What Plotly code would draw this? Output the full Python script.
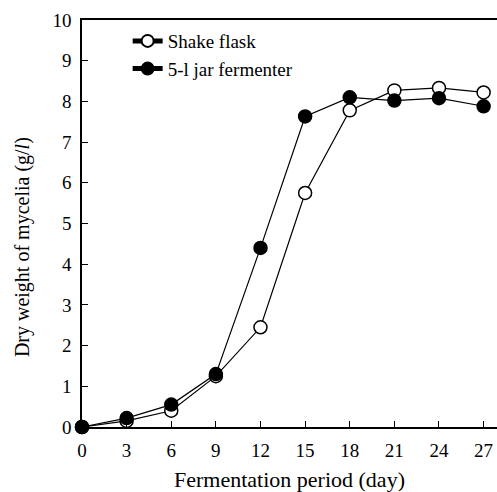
import plotly.graph_objects as go

days = [0, 3, 6, 9, 12, 15, 18, 21, 24, 27]
shake_flask = [0.0, 0.15, 0.40, 1.25, 2.45, 5.75, 7.78, 8.27, 8.33, 8.22]
jar_fermenter = [0.0, 0.22, 0.55, 1.30, 4.40, 7.63, 8.10, 8.02, 8.08, 7.88]
x_ticks = [0, 3, 6, 9, 12, 15, 18, 21, 24, 27]
y_ticks = list(range(0, 11))

font = "Liberation Serif, Times New Roman, serif"
fig = go.Figure()
fig.add_trace(go.Scatter(
    x=days, y=shake_flask, mode="lines+markers", name="Shake flask",
    line=dict(color="black", width=1.2),
    marker=dict(symbol="circle", size=13, color="white", line=dict(color="black", width=1.5)),
    cliponaxis=False))
fig.add_trace(go.Scatter(
    x=days, y=jar_fermenter, mode="lines+markers", name="5-l jar fermenter",
    line=dict(color="black", width=1.2),
    marker=dict(symbol="circle", size=13, color="black", line=dict(color="black", width=1.5)),
    cliponaxis=False))

fig.update_layout(
    width=497, height=492,
    margin=dict(l=82, r=0, t=20, b=65),
    paper_bgcolor="white", plot_bgcolor="white",
    font=dict(family=font, size=19, color="black"),
    showlegend=True,
    legend=dict(x=0.11, y=0.995, xanchor="left", yanchor="top",
                bgcolor="rgba(0,0,0,0)", font=dict(size=19, family=font),
                itemsizing="constant", tracegroupgap=0),
    xaxis=dict(range=[0, 27.9], tickvals=x_ticks, ticks="inside", ticklen=6,
               tickcolor="black", showline=True, linecolor="black", linewidth=1.5,
               mirror=True, showgrid=False, zeroline=False, automargin=False,
               ticklabelstandoff=5,
               title=dict(text="Fermentation period (day)", standoff=12,
                          font=dict(size=22, family=font))),
    yaxis=dict(range=[0, 10], tickvals=y_ticks, ticks="inside", ticklen=6,
               tickcolor="black", showline=True, linecolor="black", linewidth=1.5,
               showgrid=False, zeroline=False, automargin=False,
               ticklabelstandoff=5),
    annotations=[dict(text="Dry weight of mycelia (g/<i>l</i>)", textangle=-90,
                      xref="paper", yref="paper", x=0, y=0.442,
                      xanchor="center", yanchor="middle", xshift=-60,
                      showarrow=False, font=dict(size=20, family=font))],
)
fig.write_html("out.html", config={"displayModeBar": False},
               post_script="document.body.style.margin='0';document.body.style.overflow='hidden';")
